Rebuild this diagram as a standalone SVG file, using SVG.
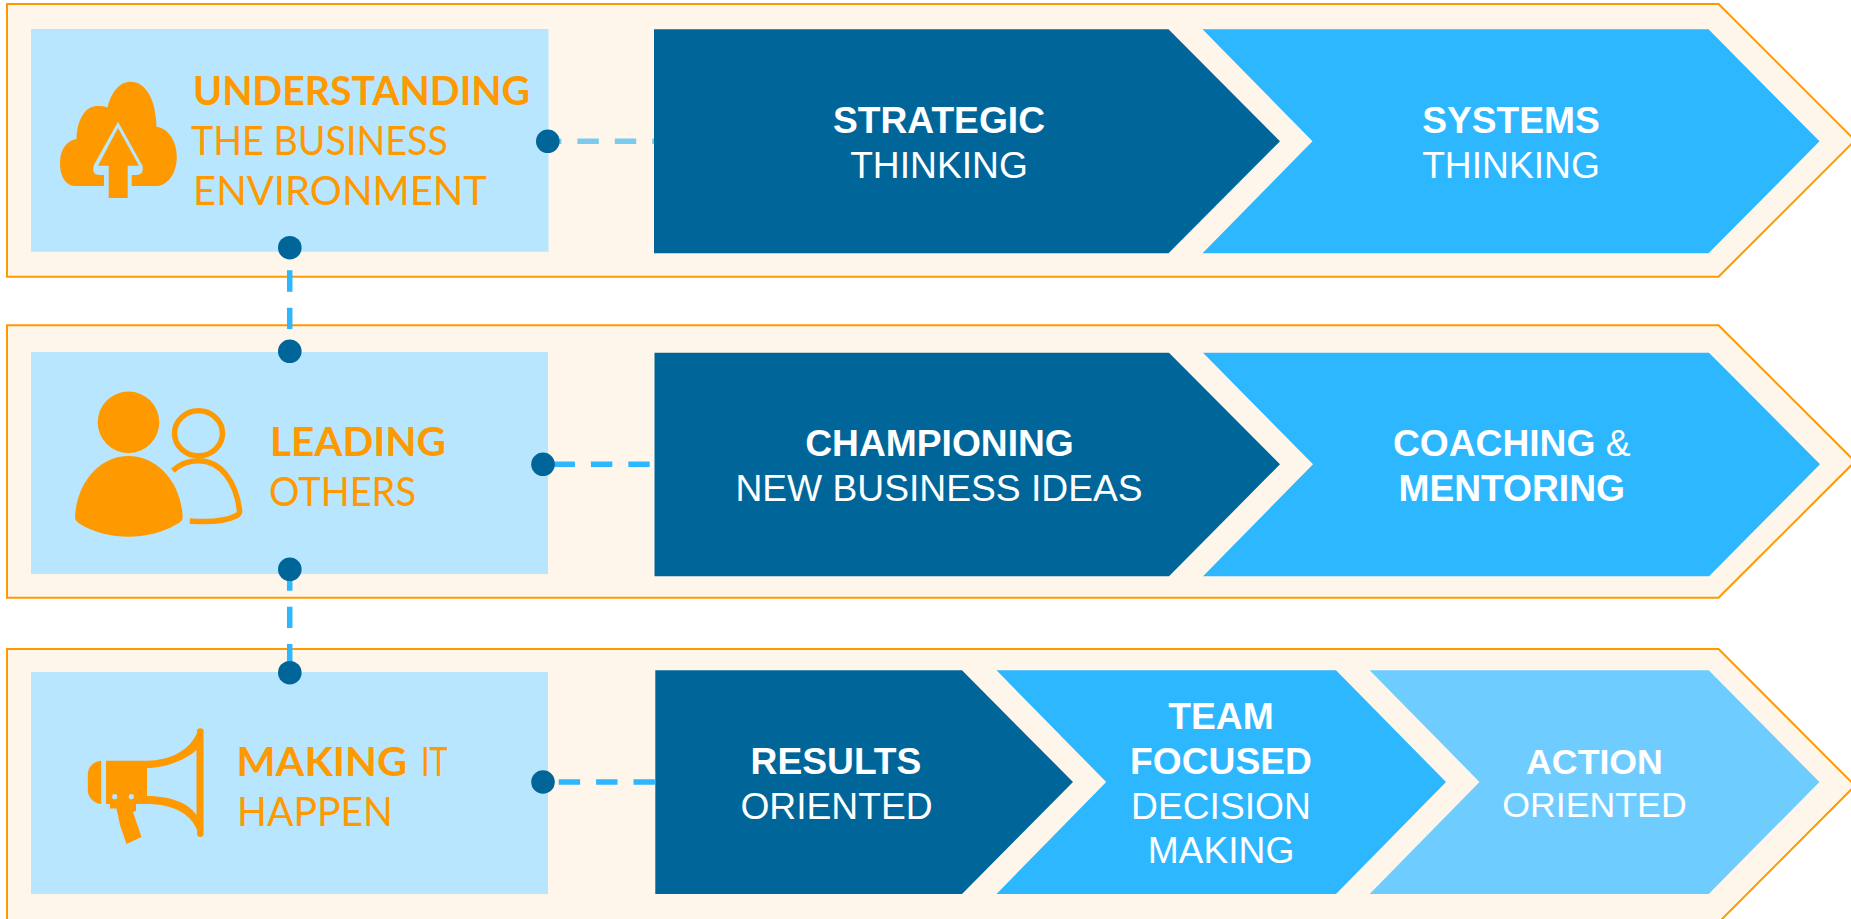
<svg xmlns="http://www.w3.org/2000/svg" width="1851" height="919" viewBox="0 0 1851 919">
<style>
.panel{fill:#FFF6EB;stroke:#FF9900;stroke-width:2}
.box{fill:#B8E6FF}
.dark{fill:#006699}
.mid{fill:#2DB7FF}
.light{fill:#6FCCFF}
.dot{fill:#006699}
.c{fill:none;stroke:#2DB7FF;stroke-width:5.5;stroke-dasharray:21.4 16}
.c1{stroke:#7ACBEE}
.t{font-family:"Liberation Sans",Arial,sans-serif;font-size:37.2px;fill:#fff;text-anchor:middle}
.s{font-size:35.7px}
.b{font-weight:700}
.o{font-family:Lato,"Liberation Sans",sans-serif;font-size:41px;fill:#FF9900;font-weight:400}
.ob{font-weight:700}
.ic{fill:#FF9900}
</style>
<g id="panels">
<polygon class="panel" points="7,4 1718.6,4 1855,140.3 1718.6,276.7 7,276.7"/>
<polygon class="panel" points="7,325.3 1718.6,325.3 1855,461.5 1718.6,597.7 7,597.7"/>
<polygon class="panel" points="7,649 1718.6,649 1855,785.7 1718.6,922.5 7,922.5"/>
</g>
<g id="connectors">
<line class="c c1" x1="540" y1="141.3" x2="654" y2="141.3"/>
<line class="c" x1="553.5" y1="464.3" x2="652" y2="464.3"/>
<line class="c" x1="558.7" y1="782" x2="656" y2="782"/>
<line class="c" x1="289.7" y1="270.3" x2="289.7" y2="340"/>
<line class="c" x1="289.7" y1="569.3" x2="289.7" y2="666"/>
</g>
<g id="node-understanding">
<rect class="box" x="31" y="29" width="517.5" height="222.7"/>
<path class="ic" d="M75,186C65,186 60,175 60,163.3C60,150 66,141 76.5,139C77,120 85,106 97,106C101,106 105,106 107.5,107.5C111,92 120,81.7 130.5,81.7C146,81.7 156,100 156.5,126.7C168,128 176.8,141 176.8,156.7C176.8,173 168,186 156,186Z"/>
<path class="box" d="M118,121.700L93.500,165.700Q91.500,175 100,175L104,175L104,187L131.700,187L131.700,175L136,175Q144.500,175 142.500,165.700Z"/>
<path class="ic" d="M118,128L98,165.700L108.700,165.700L108.700,198L127.700,198L127.700,165.700L139,165.700Z"/>
<text class="o ob" x="193" y="105" textLength="337" lengthAdjust="spacingAndGlyphs">UNDERSTANDING</text>
<text class="o" x="191" y="155" textLength="257" lengthAdjust="spacingAndGlyphs">THE BUSINESS</text>
<text class="o" x="193" y="205" textLength="294" lengthAdjust="spacingAndGlyphs">ENVIRONMENT</text>
</g>
<g id="node-leading">
<rect class="box" x="31" y="352" width="517" height="222"/>
<ellipse class="ic" cx="128.500" cy="422.300" rx="30.800" ry="30.700"/>
<path class="ic" d="M128.500,456C100,456 77,482 75,516.700C75,520 77,522 80,524C95,533 112,536.700 128.500,536.700C145,536.700 162,533 177,524C181,522 182.700,520 182.700,516.700C181,482 157,456 128.500,456Z"/>
<ellipse cx="198.500" cy="433.300" rx="24" ry="22.500" fill="none" stroke="#FF9900" stroke-width="5.500"/>
<path d="M172.800,470.700C180,464 189,460.700 198.500,460.700C221,460.700 236,482 239.500,510C240,512 239,514 237,515.500C224,522 208,522.500 189.800,521" fill="none" stroke="#FF9900" stroke-width="5.500"/>
<text class="o ob" x="270" y="456" textLength="176" lengthAdjust="spacingAndGlyphs">LEADING</text>
<text class="o" x="269" y="506" textLength="147" lengthAdjust="spacingAndGlyphs">OTHERS</text>
</g>
<g id="node-making">
<rect class="box" x="31" y="672" width="517" height="222"/>
<path class="ic" d="M101.200,760.700L101.200,804C93,803 87.800,797 87.800,790L87.800,775C87.800,767 93,761.500 101.200,760.700Z"/>
<path class="ic" d="M106,760.700L147,760.700C170,760.700 190,750 197,733L197,730.500C197,727.500 203.600,727.500 203.600,730.500L203.600,834C203.600,838 197,838 197,834L197,830C190,812 170,804 147,804L136,804L136,811L133,812L141.500,837L126.500,844L120,825L116.500,808.500L110,808.500L110,804L106,804Z"/>
<path class="box" d="M147,768C168,768 188,758 196.500,750L196.500,815C188,802 168,796 147,796Z"/>
<circle class="box" cx="114.700" cy="796.700" r="2.600"/>
<circle class="box" cx="131.300" cy="796.700" r="2.600"/>
<text class="o ob" x="236.500" y="775.700" textLength="170.500" lengthAdjust="spacingAndGlyphs">MAKING</text>
<text class="o" x="421" y="775.700" textLength="26.600" lengthAdjust="spacingAndGlyphs">IT</text>
<text class="o" x="237" y="825.700" textLength="156" lengthAdjust="spacingAndGlyphs">HAPPEN</text>
</g>
<g id="dots">
<circle class="dot" cx="547.800" cy="141.300" r="11.800"/>
<circle class="dot" cx="289.800" cy="247.700" r="11.800"/>
<circle class="dot" cx="289.800" cy="351.300" r="11.800"/>
<circle class="dot" cx="543" cy="464.300" r="11.800"/>
<circle class="dot" cx="289.800" cy="569.300" r="11.800"/>
<circle class="dot" cx="289.800" cy="672.700" r="11.800"/>
<circle class="dot" cx="543" cy="782" r="11.800"/>
</g>
<g id="node-strategic">
<polygon class="dark" points="654,29.300 1168.500,29.300 1280,141.300 1168.500,253.300 654,253.300"/>
<text class="t b" x="939" y="133.300">STRATEGIC</text>
<text class="t" x="939" y="178">THINKING</text>
</g>
<g id="node-systems">
<polygon class="mid" points="1202.500,29.300 1708.500,29.300 1819.500,141.300 1708.500,253.300 1202.500,253.300 1312.500,141.300"/>
<text class="t b" x="1511" y="133.300">SYSTEMS</text>
<text class="t" x="1511" y="178">THINKING</text>
</g>
<g id="node-championing">
<polygon class="dark" points="654.500,352.700 1169,352.700 1280,464.300 1169,576.300 654.500,576.300"/>
<text class="t b" x="939.500" y="456">CHAMPIONING</text>
<text class="t" x="939" y="501">NEW BUSINESS IDEAS</text>
</g>
<g id="node-coaching">
<polygon class="mid" points="1203,352.700 1709,352.700 1820,464.300 1709,576.300 1203,576.300 1313,464.300"/>
<text class="t" x="1511.700" y="456"><tspan class="b">COACHING</tspan> &amp;</text>
<text class="t b" x="1511.700" y="501">MENTORING</text>
</g>
<g id="node-results">
<polygon class="dark" points="655.300,670.300 962,670.300 1073,782 962,894 655.300,894"/>
<text class="t b" x="836" y="774">RESULTS</text>
<text class="t" x="836.500" y="818.500">ORIENTED</text>
</g>
<g id="node-team">
<polygon class="mid" points="996.500,670.300 1336,670.300 1446,782 1336,894 996.500,894 1106.200,782"/>
<text class="t b" x="1221" y="729.300">TEAM</text>
<text class="t b" x="1221" y="774">FOCUSED</text>
<text class="t" x="1221" y="818.500">DECISION</text>
<text class="t" x="1221" y="863">MAKING</text>
</g>
<g id="node-action">
<polygon class="light" points="1369.600,670.300 1708.700,670.300 1819.400,782 1708.700,894 1369.600,894 1479.500,782"/>
<text class="t s b" x="1594.500" y="774">ACTION</text>
<text class="t s" x="1594.500" y="816.500">ORIENTED</text>
</g>
</svg>
